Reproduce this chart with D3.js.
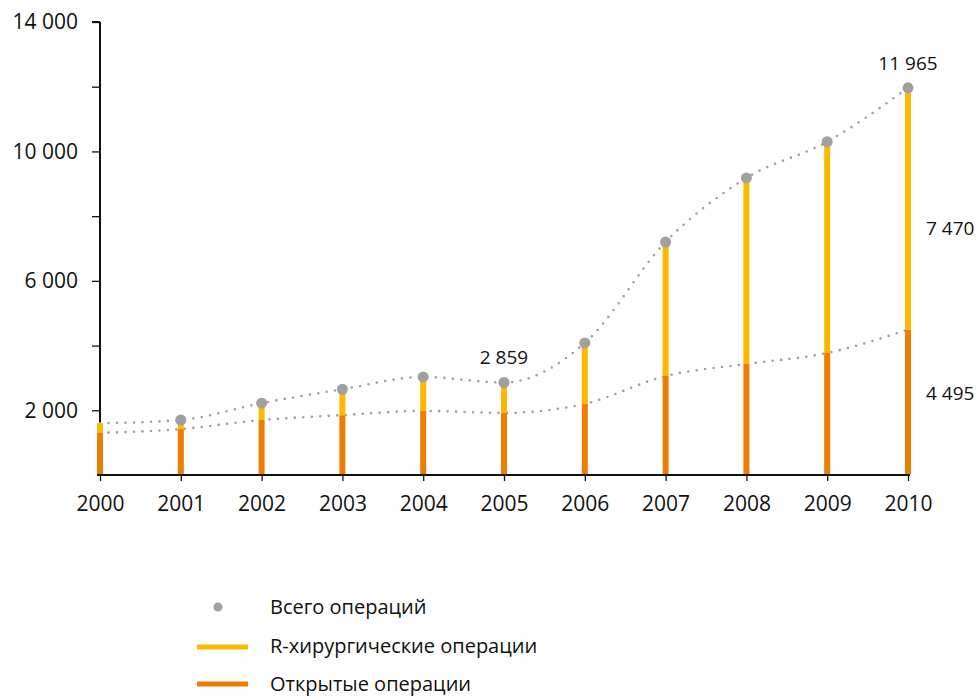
<!DOCTYPE html>
<html>
<head>
<meta charset="utf-8">
<script src="https://cdn.jsdelivr.net/npm/d3@7"></script>
<style>
  html, body { margin: 0; padding: 0; background: #fff; }
  svg { display: block; }
  text { font-family: "Open Sans", "DejaVu Sans", sans-serif; fill: #111; }
</style>
</head>
<body>
<svg id="chart" width="979" height="700"></svg>
<script>
// Operations per year: open surgery and robotic (R-) surgery
const years   = [2000, 2001, 2002, 2003, 2004, 2005, 2006, 2007, 2008, 2009, 2010];
const openOps = [1300, 1420, 1700, 1850, 1980, 1920, 2200, 3060, 3430, 3770, 4495];
const roboOps = [300, 280, 520, 800, 1050, 939, 1880, 4140, 5750, 6530, 7470];

const yTicks = [2000, 4000, 6000, 8000, 10000, 12000, 14000];
const yTickLabels = [2000, 6000, 10000, 14000];

const legendItems = ["Всего операций", "R-хирургические операции", "Открытые операции"];

const COLOR_OPEN = "#ef7d00";
const COLOR_ROBO = "#fbb900";
const COLOR_TOTAL = "#a0a0a0";

const rows = years.map((y, i) => ({
  year: y,
  open: openOps[i],
  robo: roboOps[i],
  total: openOps[i] + roboOps[i]
}));

const svg = d3.select("#chart");
const fmt = v => d3.format(",")(v).replace(/,/g, " ");

const x = d3.scalePoint().domain(years).range([100, 908]);
const y = d3.scaleLinear().domain([0, 14000]).range([475, 22]);

// Y axis
const yAxis = svg.append("g").attr("transform", "translate(100,0)")
  .call(d3.axisLeft(y).tickValues(yTicks).tickSize(8)
    .tickFormat(d => yTickLabels.includes(d) ? fmt(d) : ""));
yAxis.select(".domain").attr("d", `M0,${y(14000)}H-8M0,${y(14000)}V${y(0)}`);

// X axis
const xAxis = svg.append("g").attr("transform", `translate(0,${y(0)})`)
  .call(d3.axisBottom(x).tickSize(6).tickPadding(15).tickFormat(d => String(d)));
xAxis.select(".domain").attr("d", `M97,0H910`);

svg.selectAll(".domain, .tick line").attr("stroke", "#111").attr("stroke-width", 2);
yAxis.selectAll(".tick line").attr("stroke-width", 1.3);
xAxis.selectAll(".tick line").attr("stroke-width", 1.3);
svg.selectAll(".tick text").style("font-size", "21px").attr("fill", "#111");
yAxis.selectAll(".tick text").attr("x", -22);

// Dotted trend lines
const line = d3.line().curve(d3.curveMonotoneX);
const dotted = (pts) => svg.append("path")
  .attr("d", line(pts))
  .attr("fill", "none")
  .attr("stroke", COLOR_TOTAL)
  .attr("stroke-width", 2.6)
  .attr("stroke-linecap", "round")
  .attr("stroke-dasharray", "0 8.5");

dotted(rows.map(d => [x(d.year), y(d.total)]));
dotted(rows.map(d => [x(d.year), y(d.open)]));

// Stacked bars
const bw = 6;
svg.append("g").selectAll("rect.open").data(rows).join("rect")
  .attr("x", d => x(d.year) - bw / 2)
  .attr("width", bw)
  .attr("y", d => y(d.open))
  .attr("height", d => y(0) - y(d.open) - 1)
  .attr("fill", COLOR_OPEN);
svg.append("g").selectAll("rect.robo").data(rows).join("rect")
  .attr("x", d => x(d.year) - bw / 2)
  .attr("width", bw)
  .attr("y", d => y(d.total))
  .attr("height", d => y(d.open) - y(d.total))
  .attr("fill", COLOR_ROBO);

// Total markers
svg.append("g").selectAll("circle").data(rows.filter(d => d.year !== 2000)).join("circle")
  .attr("cx", d => x(d.year))
  .attr("cy", d => y(d.total))
  .attr("r", 5.5)
  .attr("fill", COLOR_TOTAL);

// Value labels
const r2005 = rows.find(d => d.year === 2005);
const r2010 = rows.find(d => d.year === 2010);
const lbl = (tx, ty, t, anchor) => svg.append("text")
  .attr("x", tx).attr("y", ty).attr("text-anchor", anchor)
  .style("font-size", "19px").text(t);

lbl(x(2005), y(r2005.total) - 18, fmt(r2005.total), "middle");
lbl(x(2010), y(r2010.total) - 18, fmt(r2010.total), "middle");
lbl(926, y(r2010.open + r2010.robo / 2) + 26, fmt(r2010.robo), "start");
lbl(926, y(r2010.open / 2) - 2, fmt(r2010.open), "start");

// Legend
const lg = svg.append("g");
lg.append("circle").attr("cx", 218).attr("cy", 607).attr("r", 4.5).attr("fill", COLOR_TOTAL);
lg.append("line").attr("x1", 197).attr("x2", 248).attr("y1", 647).attr("y2", 647)
  .attr("stroke", COLOR_ROBO).attr("stroke-width", 5);
lg.append("line").attr("x1", 197).attr("x2", 248).attr("y1", 684).attr("y2", 684)
  .attr("stroke", COLOR_OPEN).attr("stroke-width", 5);
legendItems.forEach((t, i) => {
  lg.append("text").attr("x", 270).attr("y", 614 + i * 38.5)
    .style("font-size", "20px").text(t);
});
</script>
</body>
</html>
